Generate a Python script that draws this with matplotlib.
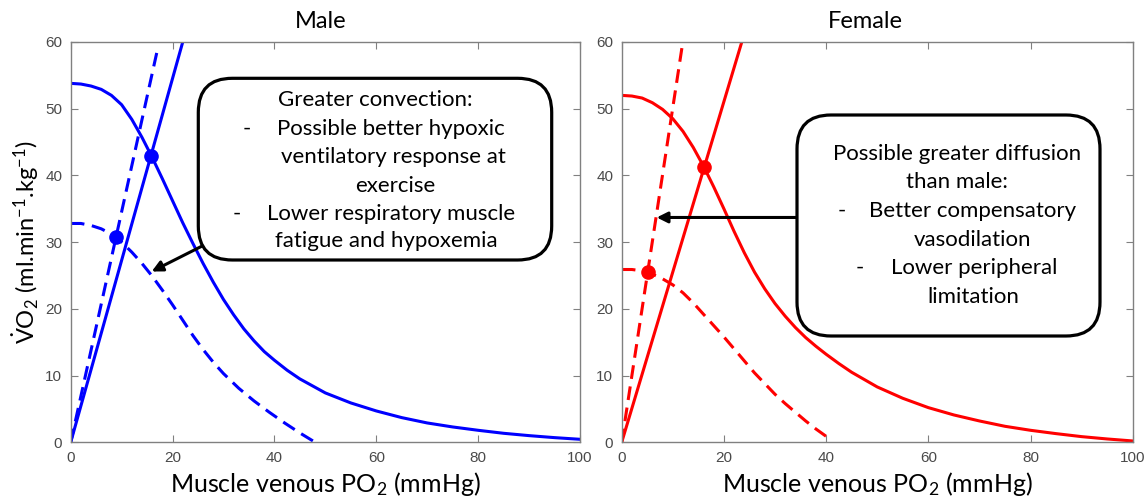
import numpy as np
import matplotlib
matplotlib.use("Agg")
import matplotlib.pyplot as plt
from matplotlib.patches import FancyBboxPatch

# ---- data ----
male_conv_x = [0, 22.0]
male_conv_y = [0, 60]
male_conv2_x = [0, 16.9]
male_conv2_y = [0, 58.4]
male_diff_x = [0, 2, 4, 6, 8, 10, 12, 14, 16, 18, 20, 22, 24, 26, 28, 30, 32, 34, 36, 38, 40,
               42.5, 45, 50, 55, 60, 65, 70, 75, 80, 85, 90, 95, 100]
male_diff_y = [53.8, 53.7, 53.4, 52.9, 52.0, 50.6, 48.4, 45.7, 42.7, 39.5, 36.2, 32.9, 29.8,
               26.8, 24.0, 21.4, 19.1, 17.0, 15.2, 13.6, 12.3, 10.8, 9.5, 7.4, 5.9, 4.7, 3.7,
               2.9, 2.3, 1.8, 1.35, 1.0, 0.7, 0.45]
male_diff2_x = [0, 2, 4, 6, 8, 10, 12, 14, 16, 18, 20, 22, 24, 26, 28, 30, 33, 36, 39, 42, 45, 48]
male_diff2_y = [32.8, 32.8, 32.5, 32.0, 31.2, 30.0, 28.5, 26.8, 24.9, 22.8, 20.6, 18.3, 16.0,
                13.9, 12.0, 10.3, 8.1, 6.2, 4.5, 2.9, 1.4, 0]
male_pts_x = [15.8, 8.9]
male_pts_y = [42.9, 30.8]

fem_conv_x = [0, 23.5]
fem_conv_y = [0, 60]
fem_conv2_x = [0, 11.8]
fem_conv2_y = [0, 59.2]
fem_diff_x = [0, 2, 4, 6, 8, 10, 12, 14, 16, 18, 20, 22, 24, 26, 28, 30, 32, 34, 36, 38, 40,
              42.5, 45, 50, 55, 60, 65, 70, 75, 80, 85, 90, 95, 100]
fem_diff_y = [52.0, 51.9, 51.6, 50.9, 49.9, 48.5, 46.6, 44.2, 41.4, 38.3, 35.0, 31.6, 28.4,
              25.5, 23.0, 20.8, 18.9, 17.2, 15.7, 14.4, 13.2, 11.8, 10.5, 8.3, 6.6, 5.2, 4.1,
              3.2, 2.4, 1.8, 1.3, 0.85, 0.5, 0.2]
fem_diff2_x = [0, 2, 4, 6, 8, 10, 12, 14, 16, 18, 20, 22, 24, 26, 28, 30, 32, 34, 36, 38, 40, 41.2]
fem_diff2_y = [25.9, 25.9, 25.7, 25.2, 24.5, 23.6, 22.4, 20.9, 19.2, 17.5, 15.8, 14.0, 12.2,
               10.4, 8.8, 7.2, 5.8, 4.5, 3.2, 2.0, 0.9, 0.3]
fem_pts_x = [16.1, 5.1]
fem_pts_y = [41.3, 25.6]

xticks = [0, 20, 40, 60, 80, 100]
yticks = [0, 10, 20, 30, 40, 50, 60]

male_lines = ["Greater convection:", "Possible better hypoxic", "ventilatory response at",
              "exercise", "Lower respiratory muscle", "fatigue and hypoxemia"]
fem_lines = ["Possible greater diffusion", "than male:", "Better compensatory",
             "vasodilation", "Lower peripheral", "limitation"]

TXT = "Lato"
plt.rcParams["mathtext.fontset"] = "custom"
plt.rcParams["mathtext.rm"] = TXT
plt.rcParams["mathtext.it"] = TXT + ":italic"
plt.rcParams["mathtext.bf"] = TXT + ":bold"

W, H = 1148, 497
fig = plt.figure(figsize=(W / 100, H / 100), dpi=100)


def px(x, y):
    # pixel (from top-left) -> inches from bottom-left
    return x / 100, (H - y) / 100


def setup(ax):
    ax.set_xlim(0, 100)
    ax.set_ylim(0, 60)
    ax.set_xticks(xticks)
    ax.set_yticks(yticks)
    for s in ax.spines.values():
        s.set_color("#808080")
        s.set_linewidth(1)
    ax.tick_params(direction="in", top=True, right=True, length=5, width=0.8,
                   color="#808080", labelcolor="#4a4a4a", labelsize=11, pad=6)
    for lab in ax.get_xticklabels() + ax.get_yticklabels():
        lab.set_family("Liberation Sans")
    ax.set_xlabel("Muscle venous PO$_2$ (mmHg)", fontsize=18, family=TXT, labelpad=4)


dash = (4.5, 2.5)
ax1 = fig.add_axes([70.7 / W, 54.7 / H, 509.3 / W, 400.3 / H])
ax1.plot(male_conv_x, male_conv_y, color="blue", lw=2.2)
ax1.plot(male_conv2_x, male_conv2_y, color="blue", lw=2.2, dashes=dash)
ax1.plot(male_diff_x, male_diff_y, color="blue", lw=2.2)
ax1.plot(male_diff2_x, male_diff2_y, color="blue", lw=2.2, dashes=dash)
ax1.plot(male_pts_x, male_pts_y, "o", color="blue", ms=9.5)
setup(ax1)
ax1.set_ylabel("$\\dot{\\mathrm{V}}$O$_2$ (ml.min$^{-1}$.kg$^{-1}$)", fontsize=17,
               family=TXT, labelpad=3)
ax1.annotate("", xy=(15.9, 25.6), xytext=(26.8, 29.8), annotation_clip=False,
             arrowprops=dict(arrowstyle="-|>", color="k", lw=2.2, mutation_scale=16,
                             shrinkA=0, shrinkB=0))

ax2 = fig.add_axes([621.7 / W, 54.7 / H, 511 / W, 400.3 / H])
ax2.plot(fem_conv_x, fem_conv_y, color="red", lw=2.2)
ax2.plot(fem_conv2_x, fem_conv2_y, color="red", lw=2.2, dashes=dash)
ax2.plot(fem_diff_x, fem_diff_y, color="red", lw=2.2)
ax2.plot(fem_diff2_x, fem_diff2_y, color="red", lw=2.2, dashes=dash)
ax2.plot(fem_pts_x, fem_pts_y, "o", color="red", ms=9.5)
setup(ax2)
ax2.annotate("", xy=(6.85, 33.7), xytext=(34.6, 33.7), annotation_clip=False,
             arrowprops=dict(arrowstyle="-|>", color="k", lw=2.2, mutation_scale=16,
                             shrinkA=0, shrinkB=0))

# titles
fig.text(*px(321, 22), "Male", transform=fig.dpi_scale_trans, ha="center", va="center",
         fontsize=17, family=TXT)
fig.text(*px(865, 22), "Female", transform=fig.dpi_scale_trans, ha="center", va="center",
         fontsize=17, family=TXT)


# annotation boxes
def box(x0, y0, x1, y1):
    bx, by = px(x0, y1)
    p = FancyBboxPatch((bx, by), (x1 - x0) / 100, (y1 - y0) / 100,
                       boxstyle="round,pad=0,rounding_size=0.34",
                       transform=fig.dpi_scale_trans, facecolor="white",
                       edgecolor="black", lw=2.3, zorder=5)
    fig.add_artist(p)


box(198.3, 78.3, 551.7, 260)
box(797, 115, 1100, 336)

FS = 16
male_pos = [(375, 100), (391, 129), (393, 157), (395, 186), (391, 214), (386, 241)]
for s, (x, y) in zip(male_lines, male_pos):
    fig.text(*px(x, y), s, transform=fig.dpi_scale_trans, ha="center", va="center",
             fontsize=FS, family=TXT, zorder=6)
for x, y in [(247, 129), (237, 214)]:
    fig.text(*px(x, y), "-", transform=fig.dpi_scale_trans, ha="center", va="center",
             fontsize=FS, family=TXT, zorder=6)

fem_pos = [(957, 154), (957, 182), (973, 211), (973, 240), (974, 268), (973, 297)]
for s, (x, y) in zip(fem_lines, fem_pos):
    fig.text(*px(x, y), s, transform=fig.dpi_scale_trans, ha="center", va="center",
             fontsize=FS, family=TXT, zorder=6)
for x, y in [(842, 211), (860, 268)]:
    fig.text(*px(x, y), "-", transform=fig.dpi_scale_trans, ha="center", va="center",
             fontsize=FS, family=TXT, zorder=6)

fig.savefig("out.png", dpi=100)
